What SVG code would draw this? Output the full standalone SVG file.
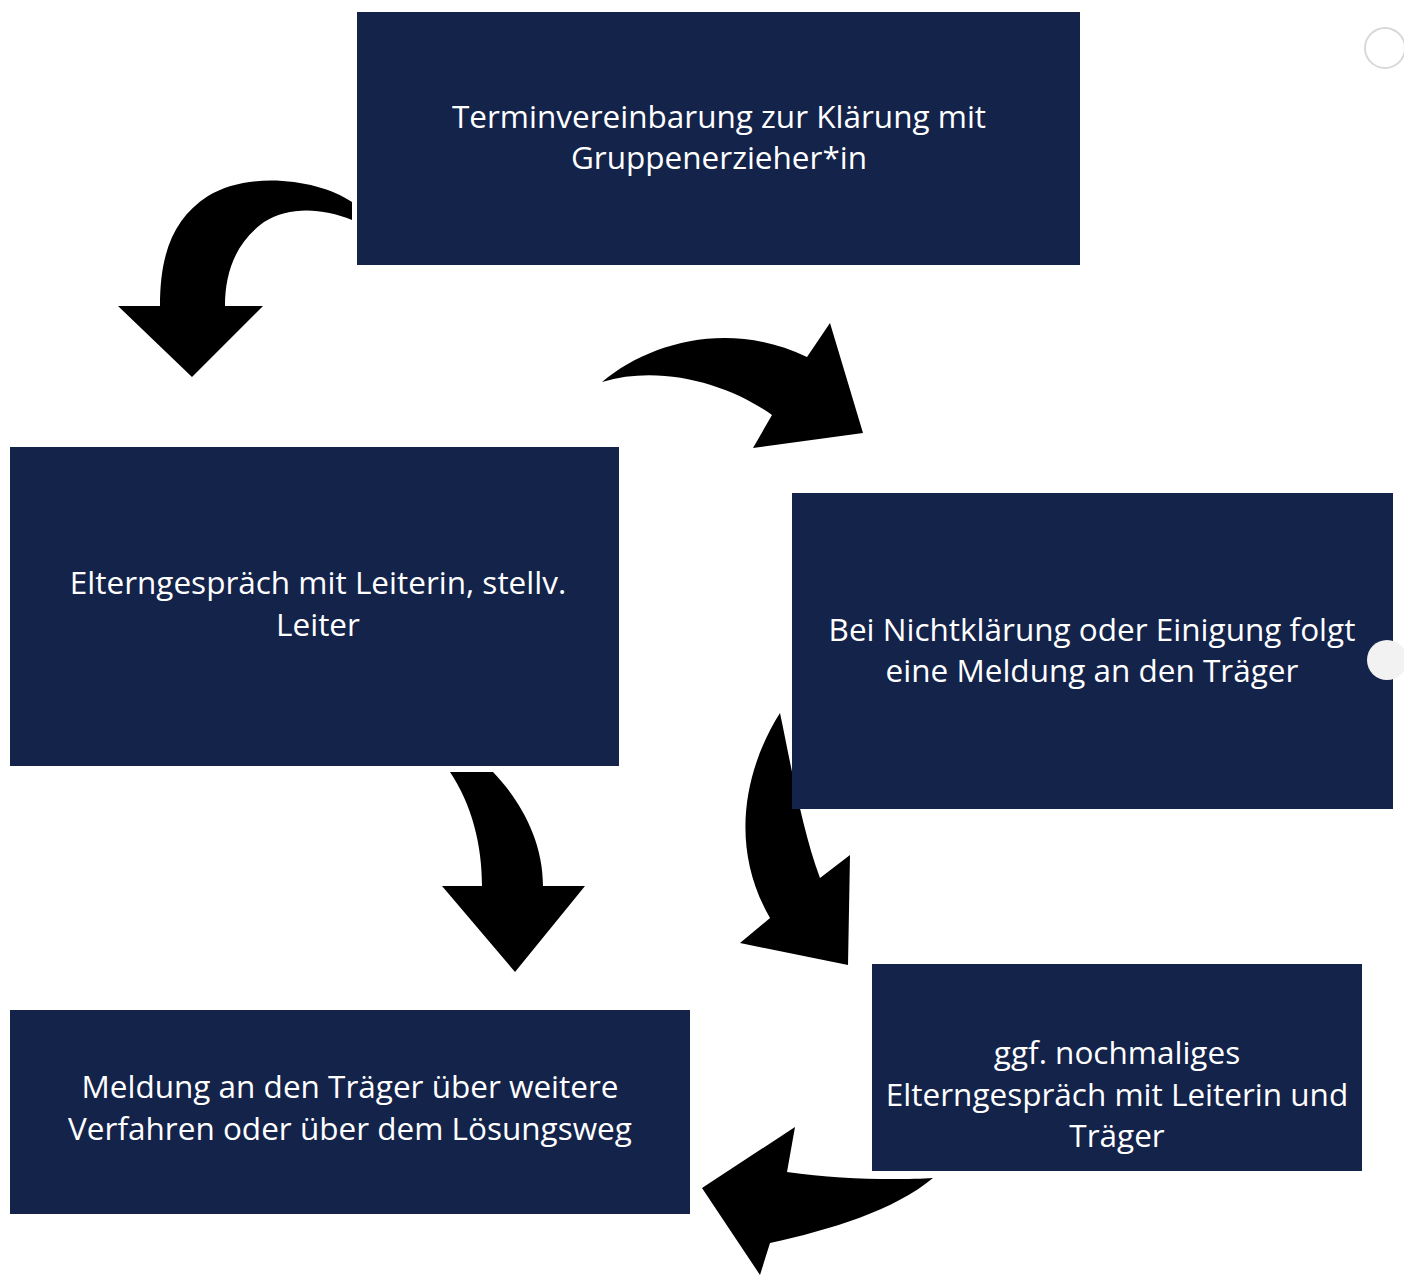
<svg xmlns="http://www.w3.org/2000/svg" width="1404" height="1276" viewBox="0 0 1404 1276">
<style>
.box{fill:#14234a}
.t{fill:#ffffff;font-family:"Open Sans","Noto Sans",sans-serif;font-size:31.5px;text-anchor:middle}
.arr{fill:#000000}
</style>
<rect x="0" y="0" width="1404" height="1276" fill="#ffffff"/>
<g id="connectors">
<path class="arr" d="M352,202 C320,180 250,170 208,196 C174,218 160,252 160,306 L118,306 L192,377 L263,306 L225,306 C225,272 236,242 264,222 C290,206 322,208 352,220 Z"/>
<path class="arr" d="M602,382 C650,342 730,320 807,357 L830,323 L863,433 L753,448 L772,415 C730,385 662,364 602,382 Z"/>
<path class="arr" d="M450,772 L493,772 C520,800 543,840 543,886 L585,886 L515,972 L442,886 L482,886 C482,845 472,805 450,772 Z"/>
<path class="arr" d="M780,713 C750,760 725,840 770,918 L740,943 L848,965 L850,855 L820,878 C802,830 790,760 780,713 Z"/>
<path class="arr" d="M933,1178 C900,1180 840,1180 787,1172 L795,1127 L702,1188 L760,1275 L770,1243 C830,1230 895,1210 933,1178 Z"/>
</g>
<g id="node1">
<rect class="box" x="357" y="12" width="723" height="253"/>
<text class="t" x="719" y="128">Terminvereinbarung zur Klärung mit</text>
<text class="t" x="719" y="169">Gruppenerzieher*in</text>
</g>
<g id="node2">
<rect class="box" x="10" y="447" width="609" height="319"/>
<text class="t" x="318" y="594">Elterngespräch mit Leiterin, stellv.</text>
<text class="t" x="318" y="636">Leiter</text>
</g>
<g id="node3">
<rect class="box" x="792" y="493" width="601" height="316"/>
<text class="t" x="1092" y="641">Bei Nichtklärung oder Einigung folgt</text>
<text class="t" x="1092" y="682">eine Meldung an den Träger</text>
</g>
<g id="node4">
<rect class="box" x="872" y="964" width="490" height="207"/>
<text class="t" x="1117" y="1064">ggf. nochmaliges</text>
<text class="t" x="1117" y="1106">Elterngespräch mit Leiterin und</text>
<text class="t" x="1117" y="1147">Träger</text>
</g>
<g id="node5">
<rect class="box" x="10" y="1010" width="680" height="204"/>
<text class="t" x="350" y="1098">Meldung an den Träger über weitere</text>
<text class="t" x="350" y="1140">Verfahren oder über dem Lösungsweg</text>
</g>
<circle cx="1385" cy="48" r="20" fill="none" stroke="#d8d8d8" stroke-width="2"/>
<circle cx="1387" cy="660" r="20" fill="#f2f2f2"/>
</svg>
